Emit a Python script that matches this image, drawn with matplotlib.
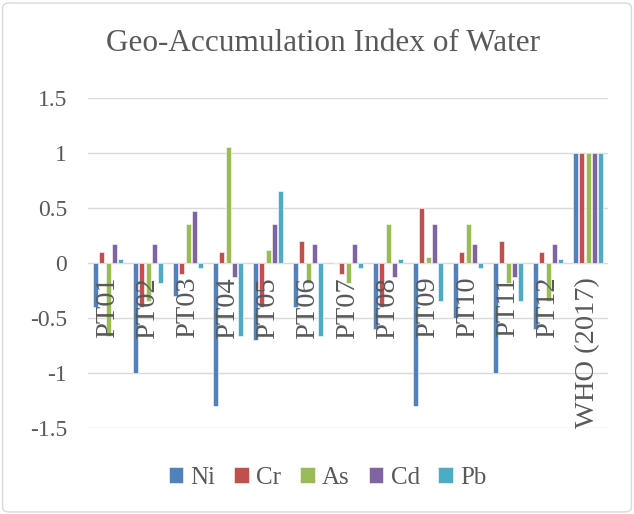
import matplotlib
matplotlib.use("Agg")
import matplotlib.pyplot as plt
import numpy as np
from matplotlib.patches import FancyBboxPatch

categories = ["PT01", "PT02", "PT03", "PT04", "PT05", "PT06", "PT07", "PT08", "PT09", "PT10", "PT11", "PT12", "WHO (2017)"]
series_names = ["Ni", "Cr", "As", "Cd", "Pb"]
Ni = [-0.4, -1.0, -0.3, -1.3, -0.7, -0.4, 0.0, -0.6, -1.3, -0.5, -1.0, -0.6, 1.0]
Cr = [0.1, -0.4, -0.1, 0.1, -0.4, 0.2, -0.1, -0.4, 0.5, 0.1, 0.2, 0.1, 1.0]
As = [-0.66, -0.35, 0.35, 1.05, 0.12, -0.18, -0.18, 0.35, 0.05, 0.35, -0.18, -0.35, 1.0]
Cd = [0.17, 0.17, 0.47, -0.13, 0.35, 0.17, 0.17, -0.13, 0.35, 0.17, -0.13, 0.17, 1.0]
Pb = [0.04, -0.18, -0.05, -0.66, 0.65, -0.66, -0.05, 0.04, -0.35, -0.05, -0.35, 0.04, 1.0]
yticks = [1.5, 1, 0.5, 0, -0.5, -1, -1.5]
ytick_labels = ["1.5", "1", "0.5", "0", "-0.5", "-1", "-1.5"]
colors = ["#4F81BD", "#C0504D", "#9BBB59", "#8064A2", "#4BACC6"]

plt.rcParams['font.family'] = ['Liberation Serif', 'DejaVu Serif']
text_color = "#595959"

fig = plt.figure(figsize=(6.34, 5.14), dpi=100)
border = FancyBboxPatch((0.004, 0.004), 0.992, 0.99, boxstyle="round,pad=0,rounding_size=0.01",
                        transform=fig.transFigure, facecolor="none", edgecolor="#D9D9D9", lw=1)
fig.patches.append(border)

ax = fig.add_axes([0.139, 0.167, 0.82, 0.643])
x = np.arange(len(categories))
spacing = 0.155
width = 0.125
data = [Ni, Cr, As, Cd, Pb]
for i, (name, vals) in enumerate(zip(series_names, data)):
    ax.bar(x + (i - 2) * spacing, vals, width=width, color=colors[i], label=name,
           edgecolor="white", linewidth=0.4, zorder=3)

ax.set_ylim(-1.5, 1.5)
ax.set_xlim(-0.5, len(categories) - 0.5)
ax.set_yticks(yticks)
ax.set_yticklabels(ytick_labels, fontsize=17, color=text_color)
ax.tick_params(axis='y', length=0, pad=15)
ax.set_xticks([])
for s in ax.spines.values():
    s.set_visible(False)
ax.grid(axis='y', color="#D9D9D9", lw=1, zorder=0)
ax.set_axisbelow(True)

for xi, lab in zip(x, categories):
    ax.annotate(lab, xy=(xi, 0), xytext=(0, -10), textcoords='offset points',
                rotation=90, ha='center', va='top', fontsize=20.5, color=text_color, zorder=5)

fig.text(0.51, 0.915, "Geo-Accumulation Index of Water", ha='center', va='center',
         fontsize=22.5, color=text_color)

leg = fig.legend(loc='center', bbox_to_anchor=(0.517, 0.07), ncol=5, frameon=False,
                 fontsize=18, handlelength=0.58, handleheight=0.58, handletextpad=0.3,
                 columnspacing=0.75)
for t in leg.get_texts():
    t.set_color(text_color)

fig.savefig("out.png", dpi=100)
